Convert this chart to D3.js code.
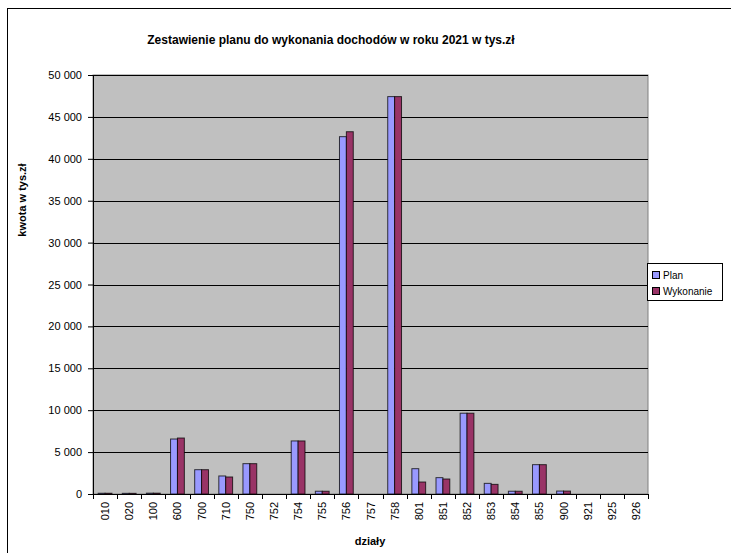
<!DOCTYPE html>
<html>
<head>
<meta charset="utf-8">
<script src="https://cdn.jsdelivr.net/npm/d3@7"></script>
<style>
  body { margin: 0; background: #fff; }
  svg { display: block; font-family: "Liberation Sans", Arial, sans-serif; }
</style>
</head>
<body>
<svg id="chart" width="731" height="553"></svg>
<script>
// działy (budget sections)
var categories = ["010", "020", "100", "600", "700", "710", "750", "752", "754", "755", "756",
  "757", "758", "801", "851", "852", "853", "854", "855", "900", "921", "925", "926"];
var planValues = [90, 80, 100, 6560, 2900, 2150, 3620, 0, 6330, 330, 42640,
  0, 47420, 3020, 1950, 9640, 1270, 330, 3500, 350, 0, 0, 0];
var wykonanieValues = [90, 80, 100, 6680, 2900, 2030, 3620, 0, 6330, 330, 43230,
  0, 47420, 1430, 1790, 9640, 1150, 330, 3500, 350, 0, 0, 0];
var seriesNames = ["Plan", "Wykonanie"];
var yTicks = [0, 5000, 10000, 15000, 20000, 25000, 30000, 35000, 40000, 45000, 50000];

var colors = ["#9999ff", "#993366"];
var series = [planValues, wykonanieValues];

var svg = d3.select("#chart");

// outer chart border (clipped by the window on the right/bottom)
svg.append("rect")
  .attr("x", 7.5).attr("y", 8.5)
  .attr("width", 740).attr("height", 560)
  .attr("fill", "none").attr("stroke", "#000").attr("stroke-width", 1);

var plotLeft = 93, plotRight = 648, plotTop = 75, plotBottom = 494;

var x = d3.scaleBand()
  .domain(categories)
  .range([plotLeft, plotRight]);

var y = d3.scaleLinear()
  .domain([0, 50000])
  .range([plotBottom, plotTop]);

// bar offset inside each band (Excel gap width 150%)
var barW = x.bandwidth() / 3.5;
var xInner = d3.scaleBand()
  .domain(seriesNames)
  .range([barW * 0.75, barW * 2.75]);

// plot area
svg.append("rect")
  .attr("x", plotLeft).attr("y", plotTop)
  .attr("width", plotRight - plotLeft).attr("height", plotBottom - plotTop)
  .attr("fill", "#c0c0c0")
  .attr("stroke", "#808080").attr("stroke-width", 1);

// grid lines
svg.append("g")
  .selectAll("line")
  .data(yTicks.filter(function(d) { return d > 0; }))
  .enter()
  .append("line")
  .attr("x1", plotLeft).attr("x2", plotRight)
  .attr("y1", function(d) { return Math.round(y(d)) + 0.5; })
  .attr("y2", function(d) { return Math.round(y(d)) + 0.5; })
  .attr("stroke", "#000");

// bars
var rows = categories.map(function(c, i) {
  return { cat: c, values: series.map(function(s, j) { return { name: seriesNames[j], v: s[i], j: j }; }) };
});

var groups = svg.append("g")
  .selectAll("g")
  .data(rows)
  .enter()
  .append("g")
  .attr("transform", function(d) { return "translate(" + x(d.cat) + ",0)"; });

groups.selectAll("rect")
  .data(function(d) { return d.values.filter(function(e) { return e.v > 0; }); })
  .enter()
  .append("rect")
  .attr("x", function(d) { return xInner(d.name); })
  .attr("y", function(d) { return y(d.v); })
  .attr("width", xInner.bandwidth())
  .attr("height", function(d) { return Math.max(1, y(0) - y(d.v)); })
  .attr("fill", function(d) { return colors[d.j]; })
  .attr("stroke", "#000")
  .attr("stroke-opacity", 0.75)
  .attr("stroke-width", 1);

// y axis
var yAxis = d3.axisLeft(y)
  .tickValues(yTicks)
  .tickSizeInner(5)
  .tickSizeOuter(0)
  .tickPadding(6)
  .tickFormat(function(d) { return d3.format(",")(d).replace(/,/g, " "); });

var gy = svg.append("g")
  .attr("transform", "translate(" + plotLeft + ",0)")
  .call(yAxis);
gy.selectAll("text").attr("font-size", 11).attr("fill", "#000").attr("font-family", "Liberation Sans, Arial, sans-serif");
gy.selectAll("line, path").attr("stroke", "#000");

// x axis
var xAxis = d3.axisBottom(x)
  .tickSizeInner(0)
  .tickSizeOuter(0)
  .tickFormat("");

var gx = svg.append("g")
  .attr("transform", "translate(0," + plotBottom + ")")
  .call(xAxis);
gx.selectAll("line, path").attr("stroke", "#000");

// tick marks at band boundaries
gx.selectAll(".sep")
  .data(categories.concat(["_end"]))
  .enter()
  .append("line")
  .attr("class", "sep")
  .attr("x1", function(d, i) { return Math.round(plotLeft + i * x.step()) + 0.5; })
  .attr("x2", function(d, i) { return Math.round(plotLeft + i * x.step()) + 0.5; })
  .attr("y1", 0).attr("y2", 5)
  .attr("stroke", "#000");

// x labels rotated
svg.append("g")
  .selectAll("text")
  .data(categories)
  .enter()
  .append("text")
  .attr("transform", function(d) {
    return "translate(" + (x(d) + x.bandwidth() / 2 + 4) + "," + (plotBottom + 8) + ") rotate(-90)";
  })
  .attr("text-anchor", "end")
  .attr("font-size", 11)
  .attr("fill", "#000")
  .text(function(d) { return d; });

// title
svg.append("text")
  .attr("x", 331).attr("y", 44)
  .attr("text-anchor", "middle")
  .attr("font-size", 12)
  .attr("font-weight", "bold")
  .text("Zestawienie planu do wykonania dochodów w roku 2021 w tys.zł");

// axis titles
svg.append("text")
  .attr("x", 370).attr("y", 545)
  .attr("text-anchor", "middle")
  .attr("font-size", 11)
  .attr("font-weight", "bold")
  .text("działy");

svg.append("text")
  .attr("transform", "translate(26,200) rotate(-90)")
  .attr("text-anchor", "middle")
  .attr("font-size", 11)
  .attr("font-weight", "bold")
  .text("kwota w tys.zł");

// legend
var legend = svg.append("g");
legend.append("rect")
  .attr("x", 647.5).attr("y", 263.5)
  .attr("width", 75).attr("height", 37)
  .attr("fill", "#fff").attr("stroke", "#000");

var items = legend.selectAll(".item")
  .data(seriesNames)
  .enter()
  .append("g")
  .attr("transform", function(d, i) { return "translate(652," + (271 + i * 16) + ")"; });

items.append("rect")
  .attr("x", 0.5).attr("y", 0.5)
  .attr("width", 7).attr("height", 7)
  .attr("fill", function(d, i) { return colors[i]; })
  .attr("stroke", "#000");

items.append("text")
  .attr("x", 11).attr("y", 8)
  .attr("font-size", 10)
  .text(function(d) { return d; });
</script>
</body>
</html>
